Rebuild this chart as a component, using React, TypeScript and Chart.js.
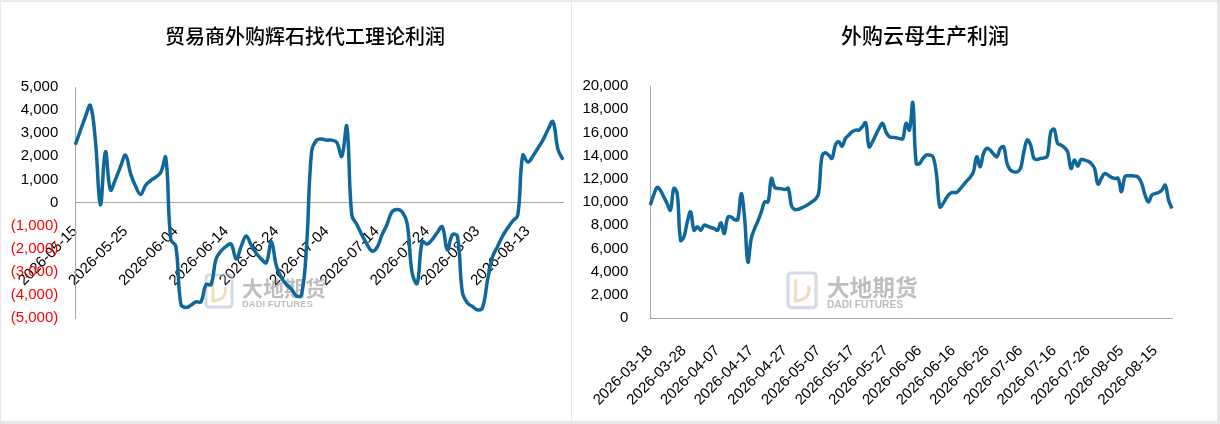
import React, { useEffect, useRef } from 'react';
import { Chart, registerables } from 'chart.js';

Chart.register(...registerables);

// 贸易商外购辉石找代工理论利润, daily from 2026-05-15
const pyroxeneStart = '2026-05-15';
const pyroxeneProfit = [
  2500, 3100, 3700, 4200, 2700, -100, 2200, 550, 1000, 1550,
  2050, 1250, 700, 350, 750, 950, 1100, 1300, 1950, -1600,
  -1900, -4400, -4550, -4450, -4300, -4300, -3550, -3550, -2450, -2100,
  -1900, -1800, -2450, -1900, -1450, -1850, -2200, -2450, -2600, -1700,
  -2750, -3250, -3550, -3750, -4050, -4000, -1900, 2200, 2700, 2750,
  2700, 2700, 2600, 2000, 3300, -550, -950, -1400, -1800, -2100,
  -1950, -1400, -950, -400, -300, -400, -900, -3050, -3500, -1700,
  -1800, -1600, -1300, -1050, -2050, -1400, -1450, -3900, -4350, -4500,
  -4650, -4550, -3350, -2350, -1900, -1450, -1100, -800, -550, 2050,
  1750, 2000, 2350, 2700, 3150, 3500, 2300, 1850,
];

// 外购云母生产利润, daily from 2026-03-18
const micaStart = '2026-03-18';
const micaProfit = [
  9730, 10590, 11250, 11020, 10450, 9870, 9300, 11170, 10730, 6700,
  6990, 8290, 9150, 7570, 7860, 7570, 8000, 7910, 7800, 7710,
  7570, 8200, 7280, 8660, 8720, 8490, 8490, 10730, 8720, 4830,
  6850, 7710, 8370, 9150, 10010, 10010, 12030, 11250, 11170, 11140,
  11080, 11170, 9640, 9350, 9380, 9500, 9640, 9810, 10010, 10220,
  10730, 13900, 14240, 14040, 13760, 14910, 15190, 14820, 15480, 15770,
  16060, 16200, 16200, 16490, 16830, 14760, 15190, 15770, 16350, 16780,
  16060, 15630, 15570, 15540, 15480, 15450, 16780, 16200, 18560, 13320,
  13320, 13760, 14040, 14040, 13900, 12460, 9580, 9870, 10360, 10730,
  10820, 10820, 11110, 11450, 11800, 12120, 12600, 13900, 13040, 14190,
  14620, 14470, 14130, 13900, 14620, 14760, 13320, 12750, 12600, 12600,
  12890, 14330, 15340, 14910, 13760, 13670, 13760, 13810, 13960, 16060,
  16260, 15050, 14910, 14700, 14330, 12890, 13610, 13090, 13670, 13610,
  13520, 13320, 12890, 11540, 12030, 12460, 12320, 12120, 12030, 12030,
  10880, 12170, 12260, 12260, 12230, 12120, 11600, 10590, 10010, 10590,
  10730, 10820, 11020, 11450, 10160, 9440,
];

const labelEvery = 10;

function dayRange(start: string, count: number): string[] {
  const out: string[] = [];
  const d = new Date(start + 'T00:00:00Z');
  for (let i = 0; i < count; i++) {
    out.push(d.toISOString().slice(0, 10));
    d.setUTCDate(d.getUTCDate() + 1);
  }
  return out;
}

const pyroxeneDates = dayRange(pyroxeneStart, pyroxeneProfit.length);
const micaDates = dayRange(micaStart, micaProfit.length);

const LINE = '#0f689b';
const AXIS = '#a6a6a6';
const TICK_FONT = { family: '"Liberation Sans", Arial, sans-serif', size: 15 };

const fmt = (v: number) =>
  v < 0 ? `(${Math.abs(v).toLocaleString('en-US')})` : v.toLocaleString('en-US');

const watermark = {
  id: 'watermark',
  beforeDatasetsDraw(chart: any, _args: any, opts: any) {
    const { ctx } = chart;
    const { x, y, s } = opts;
    ctx.save();
    ctx.lineWidth = 3 * s;
    ctx.strokeStyle = 'rgba(175,190,210,0.55)';
    ctx.beginPath();
    ctx.roundRect(x, y, 26 * s, 32 * s, 3 * s);
    ctx.stroke();
    ctx.strokeStyle = 'rgba(225,200,150,0.6)';
    ctx.beginPath();
    ctx.moveTo(x + 7 * s, y + 6 * s);
    ctx.lineTo(x + 7 * s, y + 26 * s);
    ctx.quadraticCurveTo(x + 22 * s, y + 24 * s, x + 19 * s, y + 12 * s);
    ctx.stroke();
    ctx.fillStyle = 'rgba(110,110,110,0.45)';
    ctx.textBaseline = 'alphabetic';
    ctx.font = `bold ${21 * s}px "Noto Sans CJK SC"`;
    ctx.fillText('大地期货', x + 36 * s, y + 21 * s);
    ctx.font = `bold ${9.5 * s}px "Liberation Sans", Arial`;
    ctx.fillText('DADI FUTURES', x + 36 * s, y + 32 * s);
    ctx.restore();
  },
};

function LineChart({ config, width, height }: { config: any; width: number; height: number }) {
  const ref = useRef<HTMLCanvasElement>(null);
  useEffect(() => {
    if (!ref.current) return;
    const chart = new Chart(ref.current, config);
    return () => chart.destroy();
  }, [config]);
  return <canvas ref={ref} width={width} height={height} style={{ display: 'block', width, height }} />;
}

const pyroxeneConfig = {
  type: 'line',
  data: {
    labels: pyroxeneDates,
    datasets: [
      {
        data: pyroxeneProfit,
        borderColor: LINE,
        borderWidth: 3.5,
        pointRadius: 0,
        tension: 0.4,
        fill: false,
      },
    ],
  },
  options: {
    responsive: false,
    animation: false,
    layout: { padding: { top: 85, right: 8, bottom: 103, left: 0 } },
    plugins: {
      legend: { display: false },
      tooltip: { enabled: false },
      watermark: { x: 205, y: 273, s: 1 },
    },
    scales: {
      x: {
        position: { y: 0 },
        afterFit: (scale: any) => {
          scale.paddingRight = 0;
        },
        grid: { display: false, drawTicks: false },
        border: { display: true, color: AXIS, width: 1 },
        ticks: {
          autoSkip: false,
          minRotation: 45,
          maxRotation: 45,
          padding: 20,
          color: '#000',
          font: TICK_FONT,
          callback: (_v: any, i: number) => (i % labelEvery === 0 ? pyroxeneDates[i] : ''),
        },
      },
      y: {
        min: -5000,
        max: 5000,
        afterFit: (scale: any) => {
          scale.width = 74;
        },
        grid: { display: false, drawTicks: false },
        border: { display: true, color: AXIS, width: 1 },
        ticks: {
          stepSize: 1000,
          autoSkip: false,
          padding: 17,
          font: TICK_FONT,
          color: (ctx: any) => (ctx.tick && ctx.tick.value < 0 ? '#ff0000' : '#000000'),
          callback: (v: any) => fmt(Number(v)),
        },
      },
    },
  },
  plugins: [watermark],
};

const micaConfig = {
  type: 'line',
  data: {
    labels: micaDates,
    datasets: [
      {
        data: micaProfit,
        borderColor: LINE,
        borderWidth: 3.5,
        pointRadius: 0,
        tension: 0.4,
        fill: false,
      },
    ],
  },
  options: {
    responsive: false,
    animation: false,
    layout: { padding: { top: 84, right: 45, bottom: 0, left: 0 } },
    plugins: {
      legend: { display: false },
      tooltip: { enabled: false },
      watermark: { x: 216, y: 271, s: 1.08 },
    },
    scales: {
      x: {
        afterFit: (scale: any) => {
          scale.height = 103;
          scale.paddingRight = 0;
        },
        grid: { display: false, drawTicks: false },
        border: { display: true, color: AXIS, width: 1 },
        ticks: {
          autoSkip: false,
          minRotation: 45,
          maxRotation: 45,
          padding: 24,
          color: '#000',
          font: TICK_FONT,
          callback: (_v: any, i: number) => (i % labelEvery === 0 ? micaDates[i] : ''),
        },
      },
      y: {
        min: 0,
        max: 20000,
        afterFit: (scale: any) => {
          scale.width = 77;
        },
        grid: { display: false, drawTicks: false },
        border: { display: true, color: AXIS, width: 1 },
        ticks: {
          stepSize: 2000,
          autoSkip: false,
          padding: 22,
          color: '#000',
          font: TICK_FONT,
          callback: (v: any) => fmt(Number(v)),
        },
      },
    },
  },
  plugins: [watermark],
};

const titleStyle: React.CSSProperties = {
  position: 'absolute',
  width: 440,
  textAlign: 'center',
  fontFamily: '"Noto Sans CJK SC", sans-serif',
  fontWeight: 500,
  fontSize: 20,
  lineHeight: '28px',
  color: '#000',
  top: 22,
};

export default function App() {
  return (
    <div
      style={{
        position: 'fixed',
        left: 0,
        top: 0,
        width: 1220,
        height: 424,
        background: '#e8e8e8',
        overflow: 'hidden',
      }}
    >
      <div style={{ position: 'absolute', left: 1, top: 2, width: 570, height: 419, background: '#fff' }}>
        <LineChart config={pyroxeneConfig} width={570} height={419} />
      </div>
      <div style={{ position: 'absolute', left: 572, top: 2, width: 645, height: 419, background: '#fff' }}>
        <LineChart config={micaConfig} width={645} height={419} />
      </div>
      <div style={{ ...titleStyle, left: 305 - 220 }}>贸易商外购辉石找代工理论利润</div>
      <div style={{ ...titleStyle, left: 925 - 220, top: 20, fontSize: 21 }}>外购云母生产利润</div>
    </div>
  );
}
